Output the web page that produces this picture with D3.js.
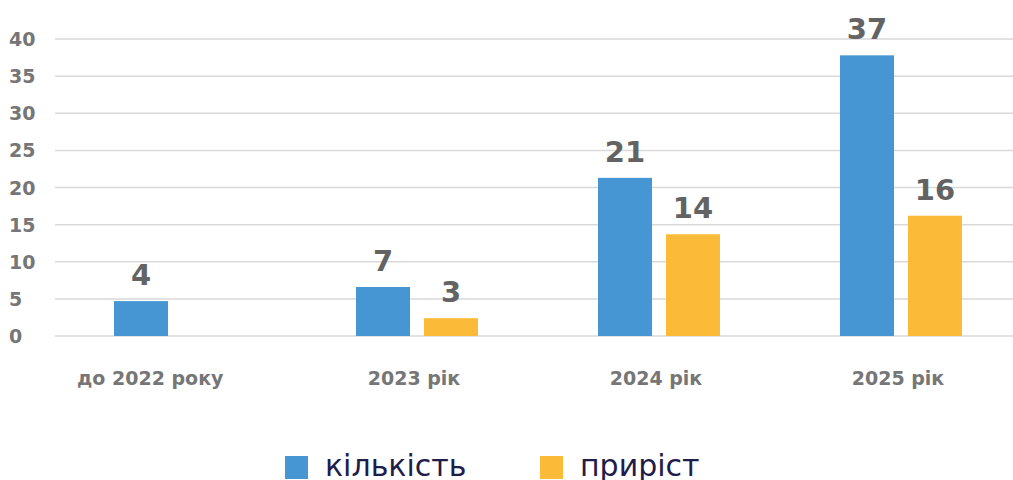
<!DOCTYPE html>
<html>
<head>
<meta charset="utf-8">
<script src="https://cdn.jsdelivr.net/npm/d3@7"></script>
<style>
  body { margin: 0; background: #fff; }
  text { font-family: "DejaVu Sans", sans-serif; }
</style>
</head>
<body>
<div id="chart"></div>
<script>
// data
var categories = ["до 2022 року", "2023 рік", "2024 рік", "2025 рік"];
var seriesNames = ["кількість", "приріст"];
var countValues = [4.7, 6.6, 21.3, 37.8];
var growthValues = [null, 2.4, 13.7, 16.2];
var countLabels = ["4", "7", "21", "37"];
var growthLabels = ["", "3", "14", "16"];
var yTicks = [0, 5, 10, 15, 20, 25, 30, 35, 40];
var colors = ["#4596d2", "#fbba37"];

var width = 1013, height = 480;

var svg = d3.select("#chart").append("svg")
    .attr("width", width)
    .attr("height", height);

var x = d3.scaleBand()
    .domain(categories)
    .range([56, 1024]);

var sub = d3.scaleBand()
    .domain(seriesNames)
    .range([x.bandwidth() / 2 - 63, x.bandwidth() / 2 + 59])
    .paddingInner(14 / 68);

var y = d3.scaleLinear()
    .domain([0, 40])
    .range([336, 39]);

//gridlines
svg.append("g").selectAll("line")
    .data(yTicks)
    .enter().append("line")
    .attr("x1", 55).attr("x2", width)
    .attr("y1", function(d) { return y(d); })
    .attr("y2", function(d) { return y(d); })
    .style("stroke", "#d9d9d9")
    .style("stroke-width", 1.5);

//y tick labels
svg.append("g").selectAll("text")
    .data(yTicks)
    .enter().append("text")
    .attr("x", 9)
    .attr("y", function(d) { return y(d) + 7; })
    .attr("font-size", 19)
    .attr("font-weight", "bold")
    .attr("fill", "#767676")
    .text(function(d) { return d; });

//x labels (first one sits a bit left in the original)
svg.append("g").selectAll("text")
    .data(categories)
    .enter().append("text")
    .attr("x", function(d, i) { return i == 0 ? x(d) + 21 : x(d) + x.bandwidth() / 2 - 5; })
    .attr("y", 385)
    .attr("text-anchor", function(d, i) { return i == 0 ? "start" : "middle"; })
    .attr("font-size", 19)
    .attr("font-weight", "bold")
    .attr("fill", "#767676")
    .text(function(d) { return d; });

var rows = categories.map(function(c, i) {
    return [
        { cat: c, s: 0, v: countValues[i], label: countLabels[i] },
        { cat: c, s: 1, v: growthValues[i], label: growthLabels[i] }
    ];
});

var groups = svg.append("g").selectAll("g")
    .data(rows)
    .enter().append("g")
    .attr("transform", function(d, i) { return "translate(" + x(categories[i]) + ",0)"; });

var bars = groups.selectAll("g")
    .data(function(d) { return d.filter(function(e) { return e.v != null; }); })
    .enter().append("g");

bars.append("rect")
    .attr("x", function(d) { return sub(seriesNames[d.s]); })
    .attr("width", sub.bandwidth())
    .attr("y", function(d) { return y(d.v); })
    .attr("height", function(d) { return y(0) - y(d.v); })
    .attr("fill", function(d) { return colors[d.s]; });

bars.append("text")
    .attr("x", function(d) { return sub(seriesNames[d.s]) + sub.bandwidth() / 2; })
    .attr("y", function(d) { return y(d.v) - 16; })
    .attr("text-anchor", "middle")
    .attr("font-size", 29)
    .attr("font-weight", "bold")
    .attr("fill", "#636363")
    .text(function(d) { return d.label; });

//legend
var legendX = [285, 540];
var legend = svg.append("g").selectAll("g")
    .data(seriesNames)
    .enter().append("g")
    .attr("transform", function(d, i) { return "translate(" + legendX[i] + ",456)"; });

legend.append("rect")
    .attr("width", 23).attr("height", 23)
    .attr("fill", function(d, i) { return colors[i]; });

legend.append("text")
    .attr("x", 40)
    .attr("y", 20)
    .attr("font-size", 30)
    .attr("fill", "#1f1d4a")
    .text(function(d) { return d; });
</script>
</body>
</html>
